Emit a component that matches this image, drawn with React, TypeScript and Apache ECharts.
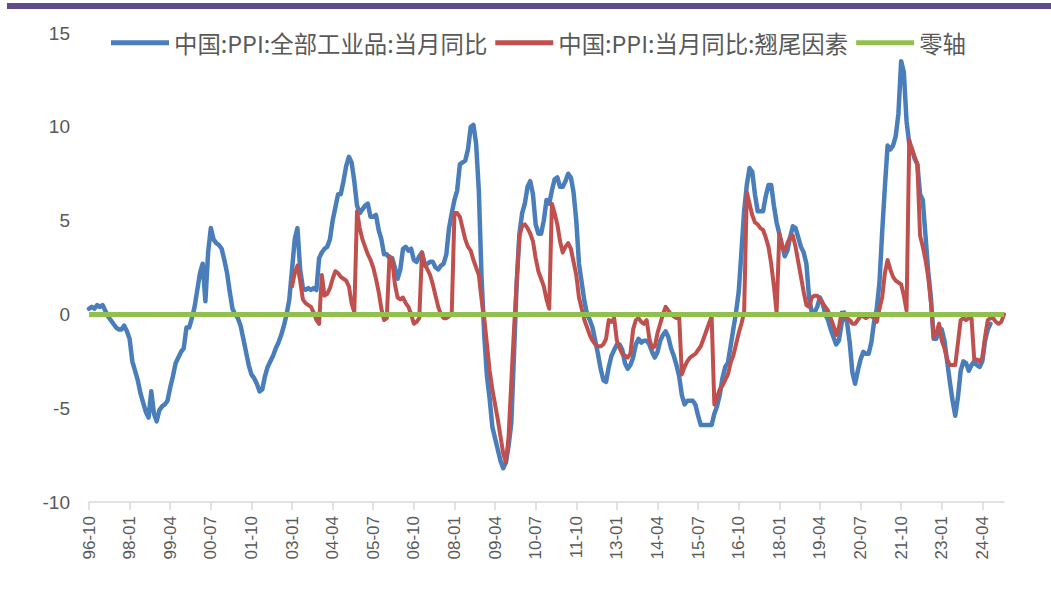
import React, { useEffect, useRef } from "react";
import * as echarts from "echarts";

// Month labels 1996-10 .. 2024-12 (YY-MM)
const categories: string[] = [];
for (let y = 1996; y <= 2024; y++) {
  for (let m = 1; m <= 12; m++) {
    if (y === 1996 && m < 10) continue;
    categories.push(String(y % 100).padStart(2, "0") + "-" + String(m).padStart(2, "0"));
  }
}

const seriesNames = ["中国:PPI:全部工业品:当月同比", "中国:PPI:当月同比:翘尾因素", "零轴"];

// 中国:PPI:全部工业品:当月同比 (1996-10 .. 2024-07)
const ppiYoY: number[] = [
  0.3, 0.4, 0.3,
  0.5, 0.4, 0.5, 0.2, -0.1, -0.3, -0.5, -0.7, -0.8, -0.8, -0.6, -0.9,
  -1.3, -2.5, -3.0, -3.5, -4.2, -4.7, -5.2, -5.5, -4.1, -5.3, -5.7, -5.1,
  -4.9, -4.8, -4.6, -3.9, -3.3, -2.6, -2.3, -2.0, -1.8, -0.7, -0.7, -0.2,
  0.4, 1.3, 2.2, 2.7, 0.7, 3.3, 4.6, 4.0, 3.8, 3.7, 3.5, 2.9,
  2.2, 1.2, 0.3, 0.0, -0.2, -0.6, -1.3, -2.0, -2.7, -3.2, -3.4, -3.7,
  -4.1, -4.0, -3.3, -2.8, -2.5, -2.2, -1.8, -1.5, -1.1, -0.6, 0.0, 0.8,
  2.4, 4.0, 4.6, 2.4, 1.4, 1.3, 1.4, 1.3, 1.4, 1.3, 3.0, 3.3,
  3.5, 3.6, 4.0, 5.0, 5.7, 6.4, 6.4, 7.1, 7.9, 8.4, 8.1, 7.1,
  5.8, 5.4, 5.6, 5.8, 5.9, 5.2, 5.2, 5.3, 4.5, 4.0, 3.2, 3.2,
  3.0, 3.0, 2.5, 1.9, 2.4, 3.5, 3.6, 3.4, 3.5, 2.9, 2.8, 3.1,
  3.3, 2.6, 2.7, 2.8, 2.8, 2.5, 2.4, 2.6, 2.7, 3.2, 4.6, 5.4,
  6.1, 6.6, 8.0, 8.1, 8.2, 8.8, 10.0, 10.1, 9.1, 6.6, 2.0, -1.1,
  -3.3, -4.5, -6.0, -6.6, -7.2, -7.8, -8.2, -7.9, -7.0, -5.8, -2.1, 1.7,
  4.3, 5.4, 5.9, 6.8, 7.1, 6.4, 4.8, 4.3, 4.3, 5.0, 6.1, 5.9,
  6.6, 7.2, 7.3, 6.8, 6.8, 7.1, 7.5, 7.3, 6.5, 5.0, 2.7, 1.7,
  0.7, 0.0, -0.3, -0.7, -1.4, -2.1, -2.9, -3.5, -3.6, -2.8, -2.2, -1.9,
  -1.6, -1.6, -1.9, -2.6, -2.9, -2.7, -2.3, -1.6, -1.3, -1.5, -1.4, -1.4,
  -1.6, -2.0, -2.3, -2.0, -1.4, -1.1, -0.9, -1.2, -1.8, -2.2, -2.7, -3.3,
  -4.3, -4.8, -4.6, -4.6, -4.6, -4.8, -5.4, -5.9, -5.9, -5.9, -5.9, -5.9,
  -5.3, -4.9, -4.3, -3.4, -2.8, -2.6, -1.7, -0.8, 0.1, 1.2, 3.3, 5.5,
  6.9, 7.8, 7.6, 6.4, 5.5, 5.5, 5.5, 6.3, 6.9, 6.9, 5.8, 4.9,
  4.3, 3.7, 3.1, 3.4, 4.1, 4.7, 4.6, 4.1, 3.6, 3.3, 2.7, 0.9,
  0.1, 0.1, 0.4, 0.9, 0.6, 0.0, -0.3, -0.8, -1.2, -1.6, -1.4, -0.5,
  0.1, -0.4, -1.5, -3.1, -3.7, -3.0, -2.4, -2.0, -2.1, -2.1, -1.5, -0.4,
  0.3, 1.7, 4.4, 6.8, 9.0, 8.8, 9.0, 9.5, 10.7, 13.5, 12.9, 10.3,
  9.1, 8.8, 8.3, 8.0, 6.4, 6.1, 4.2, 2.3, 0.9, -1.3, -1.3, -0.7,
  -0.8, -1.4, -2.5, -3.6, -4.6, -5.4, -4.4, -3.0, -2.5, -2.6, -3.0, -2.7,
  -2.5, -2.7, -2.8, -2.5, -1.4, -0.8, -0.5,
];

// 中国:PPI:当月同比:翘尾因素 (2003-01 .. 2024-12)
const carryStart = "03-01";
const carryOver: number[] = [
  1.5, 2.2, 2.6, 1.8, 0.8, 0.6, 0.5, 0.4, 0.1, -0.3, -0.5, 2.1,
  1.0, 1.1, 1.4, 1.9, 2.3, 2.2, 2.0, 1.9, 1.8, 1.5, 0.6, 0.1,
  5.5, 4.6, 4.0, 3.6, 3.2, 2.9, 2.5, 1.9, 1.2, 0.3, -0.3, -0.2,
  3.1, 2.9, 1.6, 0.9, 0.8, 0.9, 0.6, 0.4, 0.0, -0.5, -0.4, -0.2,
  3.3, 2.7, 2.4, 2.1, 1.6, 1.0, 0.4, 0.0, -0.2, -0.2, -0.1, 0.1,
  5.4, 5.4, 5.2, 4.6, 4.0, 3.6, 3.4, 2.9, 2.5, 2.1, 0.8, -0.2,
  -1.6, -3.0, -4.0, -4.8, -5.6, -6.5, -7.4, -7.9, -6.5, -3.6, -0.8, 1.8,
  4.2, 4.7, 4.8, 4.6, 4.3, 3.9, 3.0, 2.3, 1.9, 1.5, 0.8, 0.3,
  5.9, 5.4, 4.8, 3.9, 3.3, 3.6, 3.8, 3.5, 2.8, 2.1, 0.9, 0.3,
  -0.3, -0.7, -1.1, -1.4, -1.6, -1.7, -1.7, -1.6, -1.3, -0.3, -0.4, -0.2,
  -1.4, -1.8, -2.1, -2.2, -2.3, -2.1, -0.8, -0.3, -0.2, -0.4, -0.5, -0.3,
  -1.3, -1.8, -1.7, -1.0, -0.5, 0.0, 0.4, 0.2, 0.0, -0.1, -0.2, -0.1,
  -3.2, -2.8, -2.5, -2.3, -2.2, -2.1, -1.9, -1.7, -1.3, -0.9, -0.5, -0.1,
  -4.8, -4.4, -4.0, -3.8, -3.5, -3.2, -2.6, -2.2, -1.6, -1.0, -0.5, 0.1,
  6.5, 5.9, 5.3, 4.9, 4.8, 4.6, 4.5, 4.1, 3.6, 2.7, 1.5, 0.1,
  4.3, 3.6, 3.4, 3.8, 4.1, 4.2, 3.6, 2.8, 2.0, 1.2, 0.5, 0.4,
  0.9, 1.0, 1.0, 0.8, 0.6, 0.4, 0.2, -0.2, -0.6, -1.1, -0.7, 0.1,
  -0.1, -0.2, -0.3, -0.5, -0.5, -0.3, -0.1, -0.1, -0.2, -0.1, -0.1, -0.2,
  -0.4, 0.3, 0.9, 2.2, 2.9, 2.4, 2.0, 1.8, 1.7, 1.6, 1.0, 0.2,
  9.3, 8.8, 8.4, 8.0, 4.2, 3.6, 2.9, 2.0, 0.6, -1.2, -1.0, -0.5,
  -1.4, -1.8, -2.4, -2.7, -2.7, -2.7, -1.5, -0.3, -0.2, -0.3, -0.2, -0.2,
  -2.4, -2.4, -2.5, -2.3, -1.2, -0.3, -0.2, -0.2, -0.4, -0.5, -0.4, 0.0,
];

const zeroAxisValue = 0;

const yTicks = { min: -10, max: 15, interval: 5 };

const COLORS = ["#4a7ebb", "#c0504d", "#92c04f"];

export default function App() {
  const ref = useRef<HTMLDivElement>(null);
  useEffect(() => {
    if (!ref.current) return;
    const chart = echarts.init(ref.current, undefined, { renderer: "svg" });
    const startIdx = categories.indexOf(carryStart);
    const redData = categories.map((c, i) =>
      i >= startIdx && i - startIdx < carryOver.length ? carryOver[i - startIdx] : null
    );
    const zeroData = categories.map(() => zeroAxisValue);
    const lineCommon = {
      type: "line" as const,
      symbol: "none",
      showSymbol: false,
      connectNulls: false,
    };
    chart.setOption({
      animation: false,
      backgroundColor: "#ffffff",
      graphic: [
        {
          type: "rect",
          shape: { x: 7, y: 3, width: 1044, height: 6 },
          style: { fill: "#5e4b87" },
        },
      ],
      grid: { left: 89, right: 47, top: 33, bottom: 90 },
      legend: {
        left: 106,
        top: 26,
        icon: "rect",
        itemWidth: 58,
        itemHeight: 5,
        itemGap: 8,
        data: seriesNames,
        textStyle: {
          fontSize: 23.4,
          color: "#595959",
          fontFamily: "Noto Sans CJK SC",
        },
      },
      xAxis: {
        type: "category",
        data: categories,
        boundaryGap: false,
        axisLine: { onZero: false, lineStyle: { color: "#d9d9d9", width: 1.5 } },
        axisTick: { interval: 14, length: 8, lineStyle: { color: "#d9d9d9", width: 1.5 } },
        axisLabel: {
          interval: 14,
          rotate: 90,
          margin: 14,
          fontSize: 17,
          color: "#595959",
          fontFamily: "Liberation Sans",
        },
        splitLine: { show: false },
      },
      yAxis: {
        type: "value",
        min: yTicks.min,
        max: yTicks.max,
        interval: yTicks.interval,
        axisLine: { show: false },
        axisTick: { show: false },
        splitLine: { show: false },
        axisLabel: {
          fontSize: 19,
          color: "#595959",
          margin: 19,
          fontFamily: "Liberation Sans",
        },
      },
      series: [
        {
          ...lineCommon,
          name: seriesNames[0],
          data: ppiYoY,
          itemStyle: { color: COLORS[0] },
          lineStyle: { color: COLORS[0], width: 4.5, join: "round", cap: "round" },
        },
        {
          ...lineCommon,
          name: seriesNames[1],
          data: redData,
          itemStyle: { color: COLORS[1] },
          lineStyle: { color: COLORS[1], width: 4, join: "round", cap: "round" },
        },
        {
          ...lineCommon,
          name: seriesNames[2],
          data: zeroData,
          itemStyle: { color: COLORS[2] },
          lineStyle: { color: COLORS[2], width: 5 },
        },
      ],
    });
    return () => chart.dispose();
  }, []);
  return (
    <div
      ref={ref}
      style={{ position: "fixed", left: 0, top: 0, width: 1051, height: 592, background: "#fff" }}
    />
  );
}
